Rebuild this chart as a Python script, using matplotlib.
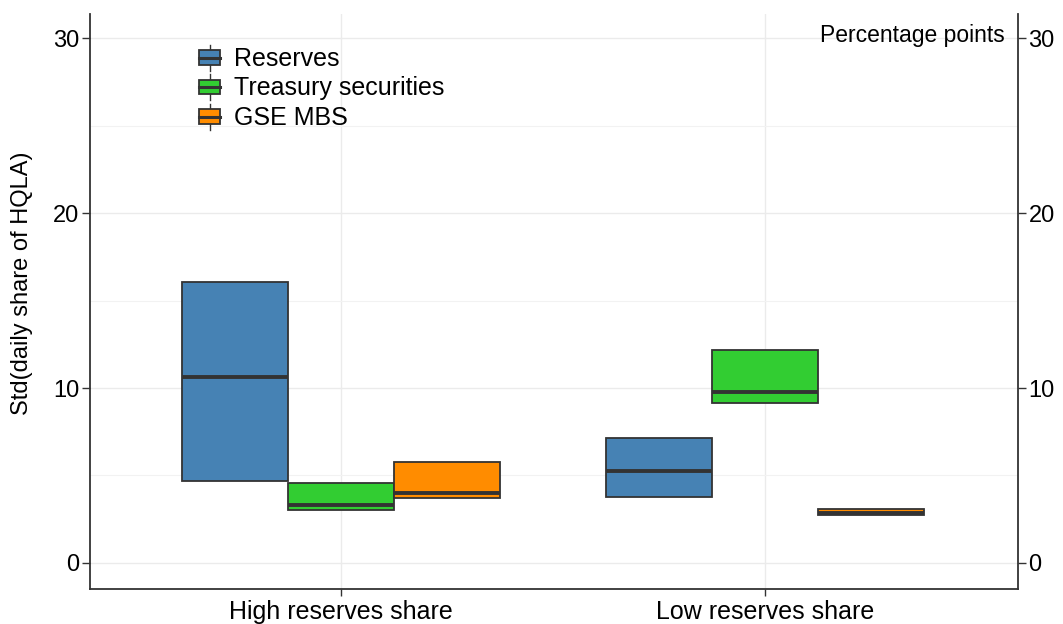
import matplotlib
matplotlib.use("Agg")
import matplotlib.pyplot as plt
from matplotlib.patches import Patch, Rectangle
from matplotlib.lines import Line2D
from matplotlib.legend_handler import HandlerBase

plt.rcParams['font.family'] = ['Liberation Sans', 'DejaVu Sans']

groups = ["High reserves share", "Low reserves share"]
series = ["Reserves", "Treasury securities", "GSE MBS"]
colors = ["#4682B4", "#32CD32", "#FF8C00"]

# box stats per series: [high, low]
q1 = {"Reserves": [4.68, 3.74], "Treasury securities": [3.03, 9.14], "GSE MBS": [3.72, 2.75]}
med = {"Reserves": [10.65, 5.27], "Treasury securities": [3.32, 9.77], "GSE MBS": [4.0, 2.85]}
q3 = {"Reserves": [16.08, 7.16], "Treasury securities": [4.58, 12.19], "GSE MBS": [5.78, 3.07]}

edge = "#333333"


class BoxHandler(HandlerBase):
    # small boxplot glyph for the legend keys (units are points)
    def create_artists(self, legend, orig_handle, xdescent, ydescent,
                       width, height, fontsize, trans):
        w = width * 0.85
        x0 = -xdescent
        cx = x0 + w / 2
        h = 10.5
        y0 = -ydescent + height / 2 - h / 2 - 0.5
        rect = Rectangle((x0, y0), w, h, facecolor=orig_handle.get_facecolor(),
                         edgecolor=edge, lw=1.3, transform=trans)
        mid = Line2D([x0, x0 + w], [y0 + h / 2] * 2, color=edge, lw=2.2, transform=trans)
        top = Line2D([cx, cx], [y0 + h, y0 + h + 4], color=edge, lw=1.0, transform=trans)
        bot = Line2D([cx, cx], [y0 - 4, y0], color=edge, lw=1.0, transform=trans)
        return [top, bot, rect, mid]


fig = plt.figure(figsize=(10.63, 6.24), dpi=100)
ax = fig.add_axes([0.0847, 0.0561, 0.8730, 0.9215])

width = 0.25
offsets = [-0.25, 0.0, 0.25]
for s, c, off in zip(series, colors, offsets):
    stats = []
    for i in range(len(groups)):
        stats.append(dict(med=med[s][i], q1=q1[s][i], q3=q3[s][i],
                          whislo=q1[s][i], whishi=q3[s][i], fliers=[]))
    ax.bxp(stats, positions=[i + off for i in range(len(groups))], widths=width,
           patch_artist=True, showcaps=False, manage_ticks=False,
           boxprops=dict(facecolor=c, edgecolor=edge, linewidth=1.3),
           medianprops=dict(color=edge, linewidth=2.8),
           whiskerprops=dict(color=edge, linewidth=1.0))

ax.set_xlim(-0.592, 1.597)
ax.set_ylim(-1.5, 31.4)
ax.set_xticks(range(len(groups)))
ax.set_xticklabels(groups, fontsize=18)
ax.set_yticks([0, 10, 20, 30])
ax.set_yticks([5, 15, 25], minor=True)
ax.tick_params(axis='y', which='minor', length=0)
ax.tick_params(axis='y', which='major', labelsize=17, length=5.5, width=1, color=edge, pad=2)
ax.tick_params(axis='x', which='major', length=5, width=1, color=edge, pad=3)
ax.grid(True, which='major', color='#ebebeb', lw=1.0, zorder=0)
ax.grid(True, which='minor', axis='y', color='#f2f2f2', lw=0.8, zorder=0)
ax.set_axisbelow(True)
ax.set_ylabel("Std(daily share of HQLA)", fontsize=17)
ax.yaxis.set_label_coords(-0.062, 0.532)

for side in ["left", "bottom", "right"]:
    ax.spines[side].set_color(edge)
    ax.spines[side].set_linewidth(1.3)
ax.spines["top"].set_visible(False)

ax2 = ax.twinx()
ax2.set_ylim(ax.get_ylim())
ax2.set_yticks([0, 10, 20, 30])
ax2.tick_params(axis='y', labelsize=17, length=5.5, width=1, color=edge, pad=2)
for side in ["left", "bottom", "right", "top"]:
    ax2.spines[side].set_visible(False)

ax.text(0.986, 0.963, "Percentage points", transform=ax.transAxes,
        ha='right', va='center', fontsize=16.5)

handles = [Patch(facecolor=c, label=s) for s, c in zip(series, colors)]
ax.legend(handles=handles, handler_map={Patch: BoxHandler()},
          loc='upper left', bbox_to_anchor=(0.1175, 0.943), frameon=False,
          fontsize=18, handlelength=1.0, handletextpad=0.4, labelspacing=0.22,
          borderaxespad=0, borderpad=0)

fig.savefig("out.png", dpi=100)
